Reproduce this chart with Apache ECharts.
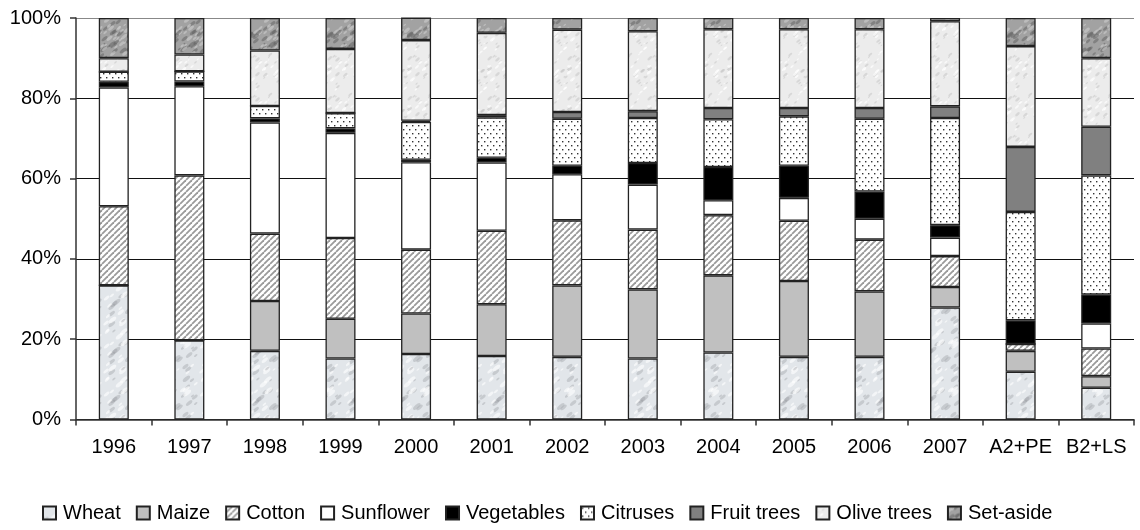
<!DOCTYPE html>
<html>
<head>
<meta charset="utf-8">
<title>Land use shares</title>
<script src="https://cdn.jsdelivr.net/npm/echarts@6/dist/echarts.min.js"></script>
<style>
  html, body { margin: 0; padding: 0; background: #fff; }
  #chart { width: 1140px; height: 530px; }
</style>
</head>
<body>
<div id="chart"></div>
<script>
// categories and shares (%)
const years = ['1996', '1997', '1998', '1999', '2000', '2001', '2002', '2003', '2004', '2005', '2006', '2007', 'A2+PE', 'B2+LS']
const yTicks = [0, 20, 40, 60, 80, 100]

const wheat      = [33.4, 19.7, 17.1, 15.2, 16.3, 15.8, 15.6, 15.2, 16.7, 15.6, 15.6, 27.9, 11.9, 7.9]
const maize      = [0, 0, 12.4, 9.9, 10.1, 12.9, 17.8, 17.2, 19.2, 18.9, 16.3, 5.1, 5.2, 2.9]
const cotton     = [19.7, 41.1, 16.8, 20.1, 15.9, 18.3, 16.2, 14.9, 15.0, 15.0, 12.9, 7.7, 1.7, 6.9]
const sunflower  = [29.6, 22.2, 27.7, 26.2, 21.8, 17.0, 11.5, 11.2, 3.7, 5.7, 5.2, 4.6, 0, 6.2]
const vegetables = [1.4, 1.2, 1.0, 1.1, 0.6, 1.2, 2.1, 5.4, 8.3, 8.0, 6.8, 3.1, 5.9, 7.2]
const citruses   = [2.5, 2.5, 3.1, 3.8, 9.4, 10.0, 11.7, 11.2, 11.9, 12.3, 18.1, 26.7, 27.0, 29.7]
const fruitTrees = [0, 0, 0, 0, 0.3, 0.6, 1.7, 1.7, 2.8, 2.1, 2.7, 2.9, 16.2, 12.1]
const oliveTrees = [3.4, 4.2, 13.8, 16.0, 20.1, 20.5, 20.5, 19.9, 19.6, 19.6, 19.6, 21.2, 25.1, 17.1]
const setAside   = [10.0, 9.1, 8.1, 7.7, 5.6, 3.7, 2.9, 3.3, 2.8, 2.8, 2.8, 0.8, 7.0, 10.0]

const FONT = "'Liberation Sans', Arial, sans-serif"

// small deterministic generator, only used for fill textures
let seed = 7
function rnd() {
  seed = (seed * 16807) % 2147483647
  return seed / 2147483647
}

function mottled(base, spots, size, count, rMin, rMax) {
  const c = document.createElement('canvas')
  c.width = size; c.height = size
  const ctx = c.getContext('2d')
  ctx.fillStyle = base
  ctx.fillRect(0, 0, size, size)
  for (let i = 0; i < count; i++) {
    const x = rnd() * size, y = rnd() * size
    const r = rMin + rnd() * (rMax - rMin)
    ctx.fillStyle = spots[i % spots.length]
    for (const dx of [-size, 0, size]) {
      for (const dy of [-size, 0, size]) {
        ctx.beginPath()
        ctx.ellipse(x + dx, y + dy, r * 1.6, r * 0.7, -0.7, 0, Math.PI * 2)
        ctx.fill()
      }
    }
  }
  return { image: c, repeat: 'repeat' }
}

function hatch() {
  const s = 6
  const c = document.createElement('canvas')
  c.width = s; c.height = s
  const ctx = c.getContext('2d')
  ctx.fillStyle = '#ffffff'
  ctx.fillRect(0, 0, s, s)
  ctx.strokeStyle = '#9a9a9a'
  ctx.lineWidth = 1.8
  for (let k = -1; k <= 1; k++) {
    ctx.beginPath()
    ctx.moveTo(k * s, s)
    ctx.lineTo(k * s + s, 0)
    ctx.stroke()
  }
  return { image: c, repeat: 'repeat' }
}

function dots() {
  const c = document.createElement('canvas')
  c.width = 6; c.height = 8
  const ctx = c.getContext('2d')
  ctx.fillStyle = '#ffffff'
  ctx.fillRect(0, 0, 6, 8)
  ctx.fillStyle = '#333'
  ctx.fillRect(1, 1, 1.4, 1.4)
  ctx.fillRect(4, 5, 1.4, 1.4)
  return { image: c, repeat: 'repeat' }
}

const fills = {
  wheat: mottled('#e2e6ea', ['rgba(145,150,155,0.35)', 'rgba(255,255,255,0.6)'], 48, 44, 1, 3),
  maize: '#c0c0c0',
  cotton: hatch(),
  sunflower: '#ffffff',
  vegetables: '#000000',
  citruses: dots(),
  fruitTrees: '#808080',
  oliveTrees: mottled('#ececec', ['rgba(190,190,190,0.45)', 'rgba(255,255,255,0.7)'], 40, 50, 0.6, 1.8),
  setAside: mottled('#a2a2a2', ['rgba(95,95,95,0.5)', 'rgba(210,210,210,0.55)'], 40, 60, 1, 2.6)
}

const seriesDefs = [
  ['Wheat', wheat, fills.wheat],
  ['Maize', maize, fills.maize],
  ['Cotton', cotton, fills.cotton],
  ['Sunflower', sunflower, fills.sunflower],
  ['Vegetables', vegetables, fills.vegetables],
  ['Citruses', citruses, fills.citruses],
  ['Fruit trees', fruitTrees, fills.fruitTrees],
  ['Olive trees', oliveTrees, fills.oliveTrees],
  ['Set-aside', setAside, fills.setAside]
]

const chart = echarts.init(document.getElementById('chart'))
chart.setOption({
  animation: false,
  textStyle: { fontFamily: FONT },
  grid: { left: 76, right: 6, top: 18, bottom: 110.5 },
  legend: {
    left: 42,
    top: 503,
    padding: 0,
    itemWidth: 13,
    itemHeight: 13,
    itemGap: 15,
    icon: 'rect',
    textStyle: { fontSize: 20, color: '#000', fontFamily: FONT, padding: [0, 0, 0, 2] },
    data: seriesDefs.map(d => d[0])
  },
  xAxis: {
    type: 'category',
    data: years,
    axisLine: { lineStyle: { color: '#333', width: 1.5 } },
    axisTick: { show: true, interval: 0, length: 6, lineStyle: { color: '#333', width: 1.5 } },
    axisLabel: { interval: 0, fontSize: 20, color: '#000', margin: 18, fontFamily: FONT }
  },
  yAxis: {
    type: 'value',
    min: yTicks[0],
    max: yTicks[yTicks.length - 1],
    interval: 20,
    axisLine: { show: true, lineStyle: { color: '#333', width: 1.5 } },
    axisTick: { show: true, length: 6, lineStyle: { color: '#333', width: 1.5 } },
    axisLabel: { fontSize: 20, color: '#000', margin: 15, fontFamily: FONT, formatter: '{value}%' },
    splitLine: { lineStyle: { color: ['#111', '#111', '#111', '#111', '#111', '#888'], width: 1 } }
  },
  series: seriesDefs.map(([name, data, fill]) => ({
    name: name,
    type: 'bar',
    stack: 'total',
    barWidth: 30,
    data: data,
    itemStyle: { color: fill, borderColor: '#222', borderWidth: 1.3 },
    emphasis: { disabled: true }
  }))
})
</script>
</body>
</html>
